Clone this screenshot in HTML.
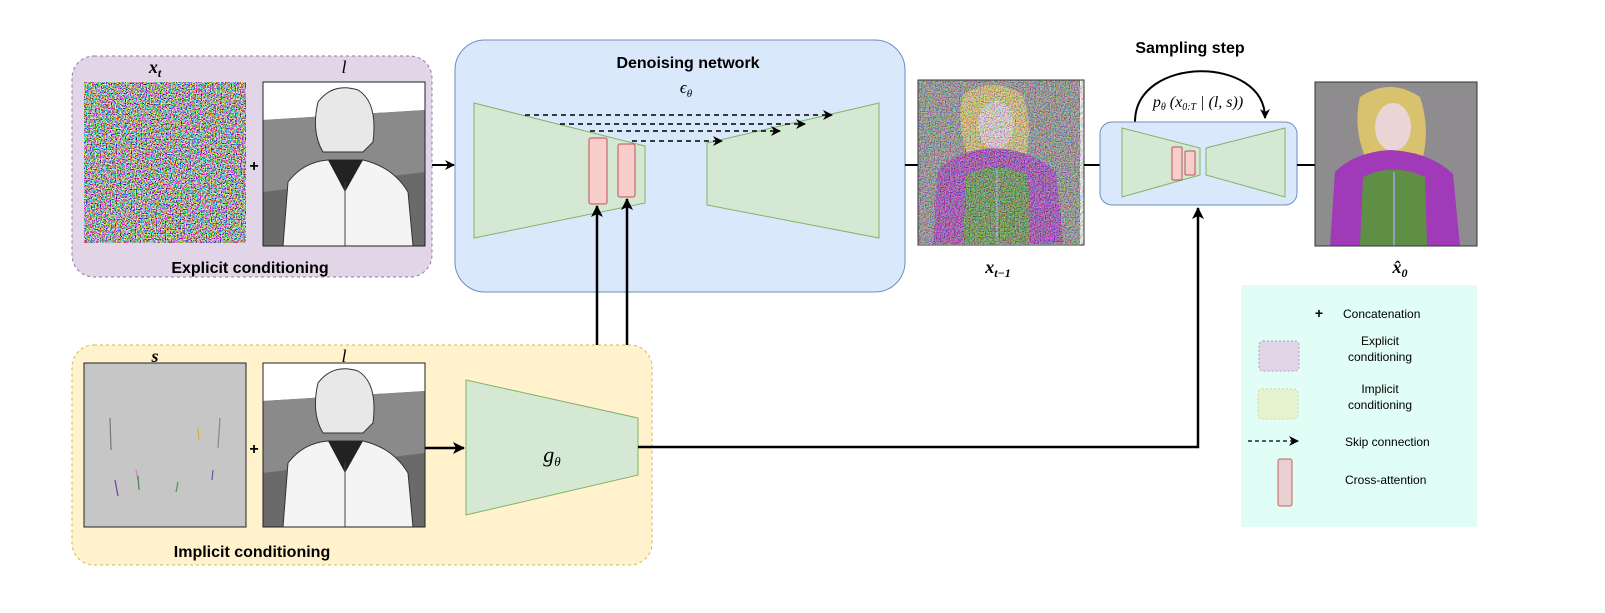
<!DOCTYPE html>
<html><head><meta charset="utf-8"><style>
html,body{margin:0;padding:0;background:#fff;}
svg{display:block;}
text{font-family:"Liberation Sans",sans-serif;}
.m{font-family:"Liberation Serif",serif;font-style:italic;}
</style></head><body>
<svg width="1605" height="613" viewBox="0 0 1605 613" xmlns="http://www.w3.org/2000/svg">
<defs>
<marker id="ah" markerWidth="10" markerHeight="10" refX="9" refY="5" orient="auto" markerUnits="userSpaceOnUse"><path d="M0,0 L10,5 L0,10 L3,5 Z" fill="#000"/></marker>
<marker id="ahs" markerWidth="12" markerHeight="12" refX="11" refY="6" orient="auto" markerUnits="userSpaceOnUse"><path d="M0,0 L12,6 L0,12 L3,6 Z" fill="#000"/></marker>
<filter id="noise" x="0" y="0" width="100%" height="100%">
<feTurbulence type="fractalNoise" baseFrequency="0.8" numOctaves="1" seed="3"/>
<feColorMatrix type="matrix" values="5 0 0 0 -2  0 5 0 0 -2  0 0 5 0 -2  0 0 0 0 1"/>
</filter>
<g id="sketch">
<rect x="0" y="0" width="162" height="164" fill="#fff"/>
<polygon points="0,38 162,28 162,164 0,164" fill="#6a6a6a"/>
<polygon points="0,38 162,28 162,90 0,110" fill="#8a8a8a"/>
<path d="M55,20 Q70,0 95,8 Q115,20 110,60 L100,70 L60,70 Q48,50 55,20Z" fill="#e8e8e8" stroke="#333"/>
<path d="M20,164 L25,100 Q40,80 65,78 L100,78 Q130,85 145,110 L150,164Z" fill="#f4f4f4" stroke="#333"/>
<path d="M65,78 L82,110 L100,78" fill="#222"/>
<line x1="82" y1="100" x2="82" y2="164" stroke="#444"/>
</g>
<g id="girl">
<rect x="0" y="0" width="162" height="164" fill="#8f8c8f"/>
<path d="M45,15 Q75,-5 105,15 Q115,45 108,75 L50,75 Q38,45 45,15Z" fill="#d9c26e"/>
<ellipse cx="78" cy="45" rx="18" ry="24" fill="#e9d4d6"/>
<path d="M15,164 L20,90 Q40,70 75,68 Q115,70 138,92 L145,164Z" fill="#a03ab8"/>
<path d="M45,164 L48,95 Q78,80 110,95 L112,164Z" fill="#5e8f44"/>
<line x1="79" y1="90" x2="79" y2="164" stroke="#8fa0c0" stroke-width="2"/>
</g>
</defs>

<rect x="72" y="56" width="360" height="221" rx="22" fill="#e1d5e7" stroke="#9673a6" stroke-dasharray="3,3"/>
<text x="155" y="73" class="m" font-size="18" text-anchor="middle" font-weight="bold">x<tspan font-size="12" dy="4">t</tspan></text>
<text x="344" y="73" class="m" font-size="18" text-anchor="middle">l</text>
<g transform="translate(84,82)"><rect width="162" height="161" fill="#8a7f90"/><rect width="162" height="161" filter="url(#noise)" opacity="0.9"/></g>
<text x="254" y="171" font-size="16" font-weight="bold" text-anchor="middle">+</text>
<g transform="translate(263,82)"><use href="#sketch"/><rect width="162" height="164" fill="none" stroke="#222"/></g>
<text x="250" y="273" font-size="16" font-weight="bold" text-anchor="middle">Explicit conditioning</text>
<line x1="432" y1="165" x2="454" y2="165" stroke="#000" stroke-width="2" marker-end="url(#ah)"/>

<rect x="455" y="40" width="450" height="252" rx="30" fill="#dae8fc" stroke="#6c8ebf"/>
<text x="688" y="68" font-size="16" font-weight="bold" text-anchor="middle">Denoising network</text>
<text x="686" y="93" class="m" font-size="17" text-anchor="middle">ϵ<tspan font-size="11" dy="4">θ</tspan></text>
<polygon points="474,103 645,146 645,203 474,238" fill="#d5e8d4" stroke="#82b366"/>
<polygon points="707,143 879,103 879,238 707,205" fill="#d5e8d4" stroke="#82b366"/>
<rect x="589" y="138" width="18" height="66" rx="2" fill="#f8cecc" stroke="#b85450"/>
<rect x="618" y="144" width="17" height="53" rx="2" fill="#f8cecc" stroke="#b85450"/>
<g stroke="#000" stroke-width="1.5" stroke-dasharray="5,4" fill="none">
<line x1="525" y1="115" x2="832" y2="115" marker-end="url(#ah)"/>
<line x1="560" y1="124" x2="805" y2="124" marker-end="url(#ah)"/>
<line x1="590" y1="131" x2="780" y2="131" marker-end="url(#ah)"/>
<line x1="632" y1="141" x2="722" y2="141" marker-end="url(#ah)"/>
</g>
<line x1="597" y1="412" x2="597" y2="206" stroke="#000" stroke-width="2.5" marker-end="url(#ahs)"/>
<line x1="627" y1="418" x2="627" y2="199" stroke="#000" stroke-width="2.5" marker-end="url(#ahs)"/>

<line x1="905" y1="165" x2="918" y2="165" stroke="#000" stroke-width="2"/>
<g transform="translate(918,80)"><use href="#girl"/><rect width="166" height="165" filter="url(#noise)" opacity="0.4"/><rect width="166" height="165" fill="none" stroke="#333"/></g>
<text x="998" y="273" class="m" font-size="18" text-anchor="middle" font-weight="bold">x<tspan font-size="12" dy="4">t−1</tspan></text>
<line x1="1084" y1="165" x2="1100" y2="165" stroke="#000" stroke-width="2"/>

<text x="1190" y="53" font-size="16" font-weight="bold" text-anchor="middle">Sampling step</text>
<path d="M1135,122 C1135,55 1265,55 1265,118" fill="none" stroke="#000" stroke-width="2" marker-end="url(#ah)"/>
<text x="1198" y="107" class="m" font-size="16" text-anchor="middle">p<tspan font-size="10" dy="3">θ</tspan><tspan dy="-3"> (x</tspan><tspan font-size="10" dy="3">0:T</tspan><tspan dy="-3"> | (l, s))</tspan></text>
<rect x="1100" y="122" width="197" height="83" rx="12" fill="#dae8fc" stroke="#6c8ebf"/>
<polygon points="1122,128 1200,148 1200,175 1122,197" fill="#d5e8d4" stroke="#82b366"/>
<polygon points="1206,148 1285,128 1285,197 1206,175" fill="#d5e8d4" stroke="#82b366"/>
<rect x="1172" y="147" width="10" height="33" rx="1" fill="#f8cecc" stroke="#b85450"/>
<rect x="1185" y="151" width="10" height="24" rx="1" fill="#f8cecc" stroke="#b85450"/>
<line x1="1297" y1="165" x2="1315" y2="165" stroke="#000" stroke-width="2"/>
<g transform="translate(1315,82)"><use href="#girl"/><rect width="162" height="164" fill="none" stroke="#333"/></g>
<text x="1400" y="273" class="m" font-size="18" text-anchor="middle" font-weight="bold">x̂<tspan font-size="12" dy="4">0</tspan></text>

<rect x="72" y="345" width="580" height="220" rx="22" fill="#fff2cc" stroke="#d6b656" stroke-dasharray="3,3"/>
<text x="155" y="362" class="m" font-size="18" text-anchor="middle" font-weight="bold">s</text>
<text x="344" y="362" class="m" font-size="18" text-anchor="middle">l</text>
<rect x="84" y="363" width="162" height="164" fill="#c6c6c6" stroke="#222"/>
<g stroke-width="1.2">
<line x1="110" y1="418" x2="111" y2="450" stroke="#777"/><line x1="220" y1="418" x2="218" y2="448" stroke="#888"/>
<line x1="198" y1="428" x2="199" y2="440" stroke="#c9b54a"/><line x1="136" y1="470" x2="138" y2="480" stroke="#c680c9"/>
<line x1="115" y1="480" x2="118" y2="496" stroke="#7040a0"/><line x1="138" y1="476" x2="139" y2="490" stroke="#508050"/>
<line x1="178" y1="482" x2="176" y2="492" stroke="#509050"/><line x1="213" y1="470" x2="212" y2="480" stroke="#7050a0"/>
</g>
<text x="254" y="454" font-size="16" font-weight="bold" text-anchor="middle">+</text>
<g transform="translate(263,363)"><use href="#sketch"/><rect width="162" height="164" fill="none" stroke="#222"/></g>
<line x1="425" y1="448" x2="464" y2="448" stroke="#000" stroke-width="2.5" marker-end="url(#ahs)"/>
<text x="252" y="557" font-size="16" font-weight="bold" text-anchor="middle">Implicit conditioning</text>
<polygon points="466,380 638,418 638,475 466,515" fill="#d5e8d4" stroke="#82b366"/>
<text x="552" y="462" class="m" font-size="22" text-anchor="middle">g<tspan font-size="13" dy="4">θ</tspan></text>
<polyline points="638,447 1198,447 1198,208" fill="none" stroke="#000" stroke-width="2.5" marker-end="url(#ahs)"/>

<rect x="1241" y="285" width="236" height="242" fill="#e0fdf6"/>
<text x="1319" y="318" font-size="14" font-weight="bold" text-anchor="middle">+</text>
<text x="1343" y="318" font-size="12">Concatenation</text>
<rect x="1259" y="341" width="40" height="30" rx="4" fill="#e1d5e7" stroke="#b89bc5" stroke-dasharray="2,2"/>
<text x="1380" y="345" font-size="12" text-anchor="middle">Explicit</text>
<text x="1380" y="361" font-size="12" text-anchor="middle">conditioning</text>
<rect x="1258" y="389" width="40" height="30" rx="4" fill="#e6f3d0" stroke="#d6d68a" stroke-dasharray="2,2"/>
<text x="1380" y="393" font-size="12" text-anchor="middle">Implicit</text>
<text x="1380" y="409" font-size="12" text-anchor="middle">conditioning</text>
<line x1="1248" y1="441" x2="1298" y2="441" stroke="#000" stroke-width="1.2" stroke-dasharray="4,3" marker-end="url(#ah)"/>
<text x="1345" y="446" font-size="12">Skip connection</text>
<rect x="1278" y="459" width="14" height="47" rx="2" fill="#e9cfcf" stroke="#c86060"/>
<text x="1345" y="484" font-size="12">Cross-attention</text>
</svg>
</body></html>
